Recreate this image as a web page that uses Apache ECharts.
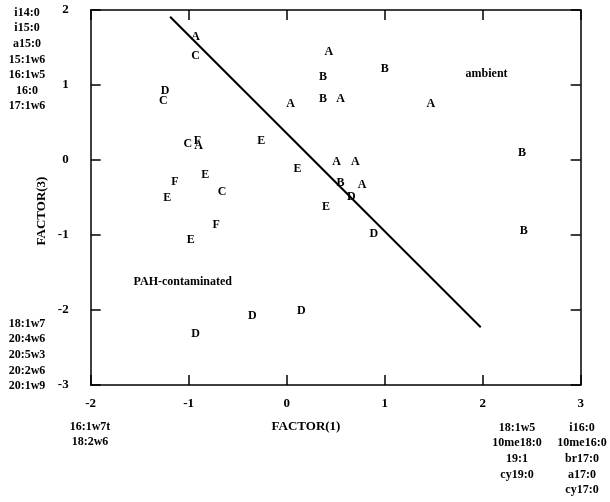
<!DOCTYPE html>
<html>
<head>
<meta charset="utf-8">
<script src="https://cdn.jsdelivr.net/npm/echarts@6/dist/echarts.min.js"></script>
<style>
  html, body { margin: 0; padding: 0; background: #fff; }
  #chart { width: 610px; height: 502px; }
</style>
</head>
<body>
<div id="chart"></div>
<script>
// sample scores, grouped by site letter: [FACTOR(1), FACTOR(3)]
var groupA = [[-0.93, 1.64], [0.43, 1.44], [0.04, 0.75], [0.55, 0.81], [1.47, 0.75],
              [-0.90, 0.19], [0.51, -0.02], [0.70, -0.02], [0.77, -0.33]];
var groupB = [[0.37, 1.11], [1.00, 1.21], [0.37, 0.81], [2.40, 0.09], [0.55, -0.30], [2.42, -0.95]];
var groupC = [[-0.93, 1.39], [-1.26, 0.79], [-1.01, 0.22], [-0.66, -0.42]];
var groupD = [[-1.24, 0.92], [0.66, -0.49], [0.89, -0.99], [-0.35, -2.08], [0.15, -2.01], [-0.93, -2.32]];
var groupE = [[-0.26, 0.25], [0.11, -0.12], [-0.83, -0.20], [-1.22, -0.50], [0.40, -0.62], [-0.98, -1.06]];
var groupF = [[-0.91, 0.26], [-1.14, -0.29], [-0.72, -0.86]];
var groups = { A: groupA, B: groupB, C: groupC, D: groupD, E: groupE, F: groupF };

var dividerLine = [[-1.19, 1.91], [1.98, -2.23]];
var regionLabels = [
  { name: 'ambient', value: [2.04, 1.15] },
  { name: 'PAH-contaminated', value: [-1.06, -1.63] }
];

// fatty acid loadings printed round the axes
var leftTopNames = ['i14:0', 'i15:0', 'a15:0', '15:1w6', '16:1w5', '16:0', '17:1w6'];
var leftBottomNames = ['18:1w7', '20:4w6', '20:5w3', '20:2w6', '20:1w9'];
var bottomLeftNames = ['16:1w7t', '18:2w6'];
var bottomMidNames = ['18:1w5', '10me18:0', '19:1', 'cy19:0'];
var bottomRightNames = ['i16:0', '10me16:0', 'br17:0', 'a17:0', 'cy17:0'];

var font = '"Liberation Serif", "Times New Roman", serif';
var myChart = echarts.init(document.getElementById('chart'));

function textBlock(lines, x, y) {
  return {
    type: 'text',
    x: x, y: y,
    style: {
      text: lines.join('\n'),
      font: 'bold 12px ' + font,
      lineHeight: 15.6,
      textAlign: 'center',
      textVerticalAlign: 'top',
      fill: '#000'
    }
  };
}

function axisTitle(text, x, y, rotation) {
  return {
    type: 'text',
    x: x, y: y,
    rotation: rotation,
    style: {
      text: text,
      font: 'bold 13px ' + font,
      textAlign: 'center',
      textVerticalAlign: 'middle',
      fill: '#000'
    }
  };
}

// scatter items default to 0.8 opacity, which would grey the labels too
var hidden = { color: 'rgba(0,0,0,0)', opacity: 1 };
var letterLabel = {
  show: true,
  position: 'inside',
  color: '#000',
  fontFamily: font,
  fontWeight: 'bold',
  fontSize: 12
};

var series = Object.keys(groups).map(function (k) {
  return {
    name: k,
    type: 'scatter',
    data: groups[k],
    symbolSize: 2,
    itemStyle: hidden,
    label: Object.assign({ formatter: k }, letterLabel),
    labelLayout: { hideOverlap: false },
    silent: true
  };
});
series.push({
  type: 'line',
  data: dividerLine,
  symbol: 'none',
  lineStyle: { color: '#000', width: 2 },
  silent: true
});
series.push({
  type: 'scatter',
  data: regionLabels,
  symbolSize: 2,
  itemStyle: hidden,
  label: Object.assign({ formatter: '{b}' }, letterLabel),
  silent: true
});

var axisLine = { show: true, onZero: false, lineStyle: { color: '#000', width: 1.5 } };
var tick = { show: true, inside: true, length: 10, lineStyle: { color: '#000', width: 1.5 } };
var tickFont = { color: '#000', fontFamily: font, fontWeight: 'bold', fontSize: 13 };

myChart.setOption({
  animation: false,
  grid: { left: 90.7, right: 29.3, top: 10, bottom: 117 },
  xAxis: [
    {
      type: 'value', min: -2, max: 3, interval: 1,
      axisLine: axisLine, axisTick: tick, splitLine: { show: false },
      axisLabel: Object.assign({ margin: 12 }, tickFont)
    },
    {
      type: 'value', position: 'top', min: -2, max: 3, interval: 1,
      axisLine: axisLine, axisTick: tick, splitLine: { show: false },
      axisLabel: { show: false }
    }
  ],
  yAxis: [
    {
      type: 'value', min: -3, max: 2, interval: 1,
      axisLine: axisLine, axisTick: tick, splitLine: { show: false },
      axisLabel: Object.assign({ margin: 22 }, tickFont)
    },
    {
      type: 'value', position: 'right', min: -3, max: 2, interval: 1,
      axisLine: axisLine, axisTick: tick, splitLine: { show: false },
      axisLabel: { show: false }
    }
  ],
  graphic: [
    axisTitle('FACTOR(1)', 306, 427, 0),
    axisTitle('FACTOR(3)', 41.5, 211, Math.PI / 2),
    textBlock(leftTopNames, 27, 5),
    textBlock(leftBottomNames, 27, 316),
    textBlock(bottomLeftNames, 90, 419),
    textBlock(bottomMidNames, 517, 420),
    textBlock(bottomRightNames, 582, 420)
  ],
  series: series
});
</script>
</body>
</html>
